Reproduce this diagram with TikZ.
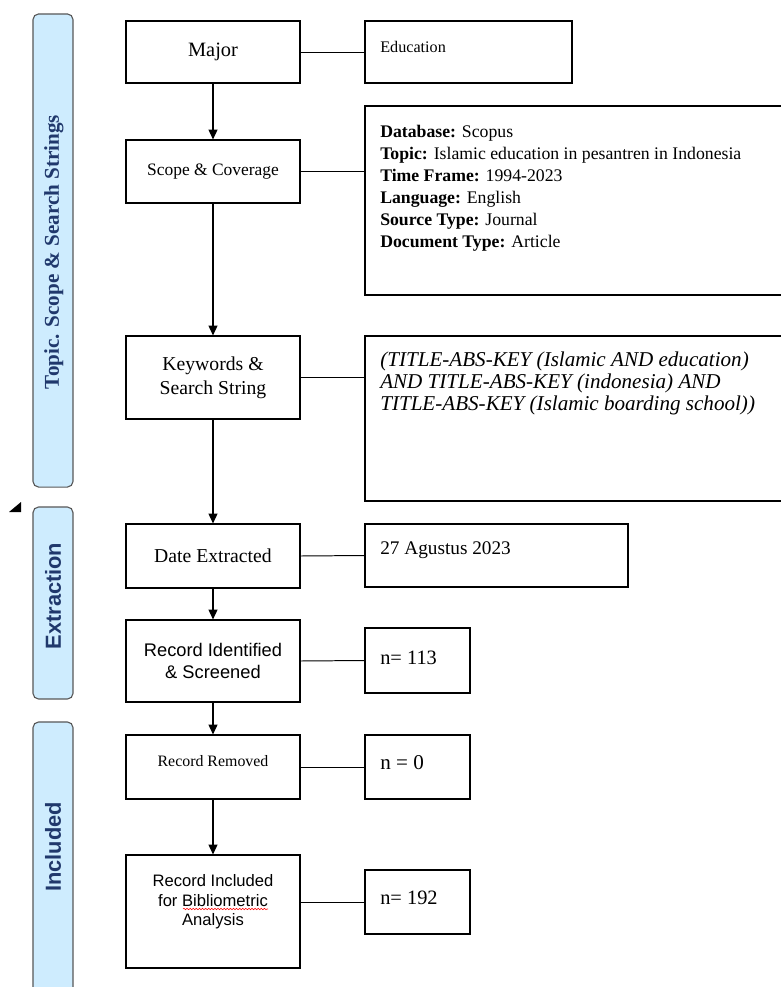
\documentclass[tikz,border=0pt]{standalone}
\usepackage{fontspec}
\setmainfont{Liberation Serif}
\setsansfont{Liberation Sans}
\usetikzlibrary{arrows.meta,decorations.pathmorphing}
\definecolor{barblue}{RGB}{206,236,254}
\definecolor{barline}{RGB}{88,88,88}
\definecolor{bartext}{RGB}{32,56,108}
\tikzstyle{every node}=[inner sep=0pt]
\tikzstyle{stage}=[draw=black,line width=0.8pt,minimum width=4.35cm,align=center]
\tikzstyle{info}=[draw=black,line width=0.8pt]
\tikzstyle{phase}=[draw=barline,fill=barblue,line width=0.8pt,rounded corners=4pt,minimum width=1cm]
\tikzstyle{phasetext}=[text=bartext,rotate=90]
\tikzstyle{note}=[anchor=west,align=left]
\tikzstyle{link}=[line width=0.7pt]
\tikzstyle{flow}=[line width=0.8pt,-{Triangle[length=7pt,width=6.4pt]}]
\newcommand{\fsz}[2]{\fontsize{#1}{#2}\selectfont}

\begin{document}
\begin{tikzpicture}[x=0.025cm,y=-0.025cm]
	\useasboundingbox (0,0) rectangle (781,987);
	\clip (0,0) rectangle (781,987);
	% phases on the left
	\node (bar1) [phase,minimum height=11.825cm] at (53,250.5) {};
	\node (bar2) [phase,minimum height=4.8cm] at (53,603) {};
	\node (bar3) [phase,minimum height=7.2cm] at (53,866) {};
	\node (bar1-t) [phasetext,font=\fsz{15}{18}\bfseries] at (54,252) {Topic. Scope \& Search Strings};
	\node (bar2-t) [phasetext,font=\fsz{15.5}{18}\sffamily\bfseries] at (53,596) {Extraction};
	\node (bar3-t) [phasetext,font=\fsz{15.5}{18}\sffamily\bfseries] at (53,847) {Included};
	\fill (9,512) -- (21,512) -- (21,502) -- cycle;
	% steps
	\node (major) [stage,minimum height=1.55cm,font=\fsz{14.5}{17}] at (213,52) {Major};
	\node (scope) [stage,minimum height=1.575cm,font=\fsz{12.4}{15}] at (213,171.5) {Scope \& Coverage};
	\node (keys) [stage,minimum height=2.075cm,font=\fsz{14}{17}] at (213,377.5) {Keywords \&\\Search String};
	\node (date) [stage,minimum height=1.6cm,font=\fsz{14}{17}] at (213,556) {Date Extracted};
	\node (ident) [stage,minimum height=2.05cm,font=\fsz{13}{15.6}\sffamily] at (213,661) {Record Identified\\\& Screened};
	\node (removed) [stage,minimum height=1.6cm] at (213,767) {};
	\node (removed-t) [font=\fsz{11.3}{14}] at (213,761) {Record Removed};
	\node (included) [stage,minimum height=2.825cm] at (213,911.5) {};
	\node (included-t) [align=center,font=\fsz{11.8}{13.8}\sffamily] at (213,902) {Record Included\\for Bibliometric\\Analysis};
	\draw[red,line width=0.4pt,decorate,decoration={snake,amplitude=0.5pt,segment length=2.2pt}] (183,909) -- (268,909);
	% details on the right
	\node (edu) [info,minimum width=5.175cm,minimum height=1.55cm] at (468.5,52) {};
	\node (db) [info,minimum width=11cm,minimum height=4.725cm] at (585,200.5) {};
	\node (str) [info,minimum width=11cm,minimum height=4.125cm] at (585,418.5) {};
	\node (dt) [info,minimum width=6.575cm,minimum height=1.575cm] at (496.5,555.5) {};
	\node (n113) [info,minimum width=2.625cm,minimum height=1.625cm] at (417.5,660.5) {};
	\node (n0) [info,minimum width=2.625cm,minimum height=1.6cm] at (417.5,767) {};
	\node (n192) [info,minimum width=2.625cm,minimum height=1.6cm] at (417.5,902) {};
	\node (edu-t) [note,font=\fsz{11.5}{14}] at (380,47) {Education};
	\node (db-t) [note,anchor=north west,font=\fsz{12.6}{15.6}] at (380,125) {\textbf{Database:} Scopus\\
		\textbf{Topic:} Islamic education in pesantren in Indonesia\\
		\textbf{Time Frame:} 1994-2023\\
		\textbf{Language:} English\\
		\textbf{Source Type:} Journal\\
		\textbf{Document Type:} Article};
	\node (str-t) [note,anchor=north west,font=\fsz{15}{15.6}\itshape] at (380,352) {(TITLE-ABS-KEY (Islamic AND education)\\
		AND TITLE-ABS-KEY (indonesia) AND\\
		TITLE-ABS-KEY (Islamic boarding school))};
	\node (dt-t) [note,font=\fsz{13.7}{16}] at (380,550) {27 Agustus 2023};
	\node (n113-t) [note,font=\fsz{14.5}{17}] at (380,658) {n= 113};
	\node (n0-t) [note,font=\fsz{15}{17}] at (380,763) {n = 0};
	\node (n192-t) [note,font=\fsz{14.5}{17}] at (380,898) {n= 192};
	% links
	\draw[link] (major.east) -- (edu.west);
	\draw[link] (scope.east) -- (scope.east -| db.west);
	\draw[link] (keys.east) -- (keys.east -| str.west);
	\draw[link] (date.east) -- (dt.west);
	\draw[link] (ident.east) -- (n113.west);
	\draw[link] (removed.east) -- (n0.west);
	\draw[link] (included.east |- n192.west) -- (n192.west);
	\draw[flow] (major) -- (scope);
	\draw[flow] (scope) -- (keys);
	\draw[flow] (keys) -- (date);
	\draw[flow] (date) -- (ident);
	\draw[flow] (ident) -- (removed);
	\draw[flow] (removed) -- (included);
\end{tikzpicture}
\end{document}
